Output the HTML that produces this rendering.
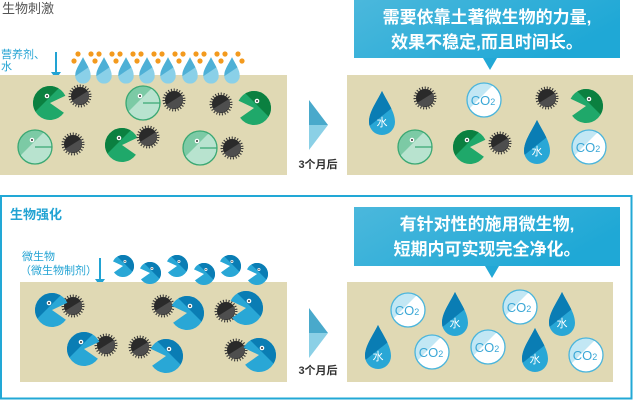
<!DOCTYPE html>
<html><head><meta charset="utf-8"><style>
html,body{margin:0;padding:0;background:#fff;}
svg{display:block;font-family:"Liberation Sans","Noto Sans CJK SC",sans-serif;}
</style></head><body>
<svg width="633" height="400" viewBox="0 0 633 400" xmlns="http://www.w3.org/2000/svg">
<defs>
<clipPath id="pmc"><path d="M0,0 L15.4,-7.2 A17,17 0 1,0 13.9,9.8 Z"/></clipPath>
<clipPath id="cc"><circle r="17"/></clipPath>
<clipPath id="dc"><path d="M0,-23 C6,-11 13,-2 13,8 A13,13 0 0,1 -13,8 C-13,-2 -6,-11 0,-23Z"/></clipPath>
<g id="gpac"><g clip-path="url(#pmc)"><rect x="-20" y="-20" width="40" height="40" fill="#1fa86a"/><polygon points="-20,14 14,-20 -20,-20" fill="#0b8040"/></g><circle cx="-3" cy="-7" r="2.3" fill="#fff"/><circle cx="-3" cy="-7" r="1" fill="#333"/></g>
<g id="bpac"><g clip-path="url(#pmc)"><rect x="-20" y="-20" width="40" height="40" fill="#29a7d6"/><polygon points="-20,14 14,-20 -20,-20" fill="#0a7db4"/></g><circle cx="-3" cy="-7" r="2.3" fill="#fff"/><circle cx="-3" cy="-7" r="1" fill="#333"/></g>
<g id="lpac"><g clip-path="url(#cc)"><rect x="-20" y="-20" width="40" height="40" fill="#b8e3cf"/><polygon points="-20,14 14,-20 -20,-20" fill="#7ccaa5"/></g><circle r="17" fill="none" stroke="#3aa873" stroke-width="1.3"/><line x1="0" y1="0" x2="17" y2="0" stroke="#3aa873" stroke-width="1.3"/><circle cx="-3" cy="-7" r="2.3" fill="#fff"/><circle cx="-3" cy="-7" r="1" fill="#333"/></g>
<g id="urch"><circle r="9.5" fill="none" stroke="#3a3a3a" stroke-width="4" stroke-dasharray="1 1.6"/><circle r="9" fill="#2a2a2a"/><path d="M-8,5 L8,-5 A9.5,9.5 0 0,1 -8,5Z" fill="#4e4e4e"/></g>
<g id="drop"><g clip-path="url(#dc)"><rect x="-15" y="-25" width="30" height="50" fill="#29a7d6"/><polygon points="-15,14 15,-10 15,-25 -15,-25" fill="#0a7db4"/></g><text x="0" y="12" font-size="11" fill="#fff" text-anchor="middle">水</text></g>
<g id="sdrop"><g clip-path="url(#dc)"><rect x="-15" y="-25" width="30" height="50" fill="#8ad0e8"/><polygon points="-15,10 15,-10 15,-25 -15,-25" fill="#4eb0d6"/></g></g>
<g id="co2"><g clip-path="url(#cc)"><rect x="-20" y="-20" width="40" height="40" fill="#fff"/><polygon points="-20,14 14,-20 -20,-20" fill="#c2e7f4"/></g><circle r="17" fill="none" stroke="#4ab5dc" stroke-width="1.3"/><text x="-1" y="5" font-size="13" fill="#3aa7d6" text-anchor="middle">CO<tspan font-size="9">2</tspan></text></g>
<linearGradient id="cg" x1="0" y1="0" x2="1" y2="0.4"><stop offset="0" stop-color="#4bb8dc"/><stop offset="1" stop-color="#1fa8d6"/></linearGradient>
</defs>

<text x="2" y="13" font-size="13" fill="#555">生物刺激</text>
<text x="1" y="58" font-size="11" fill="#22a3d3">营养剂、</text>
<text x="1" y="70" font-size="11" fill="#22a3d3">水</text>
<line x1="56" y1="52" x2="56" y2="74" stroke="#22a3d3" stroke-width="2"/>
<polygon points="51,72 61,72 56,79" fill="#22a3d3"/>
<rect x="0" y="75" width="287" height="100" fill="#e0d9b4"/>
<g fill="#f39a1e">
<circle cx="74" cy="61" r="2.6"/><circle cx="78" cy="54" r="2.6"/>
<circle cx="91" cy="54" r="2.6"/><circle cx="99" cy="54" r="2.6"/><circle cx="95" cy="61" r="2.6"/>
<circle cx="112" cy="54" r="2.6"/><circle cx="120" cy="54" r="2.6"/><circle cx="116" cy="61" r="2.6"/>
<circle cx="133" cy="54" r="2.6"/><circle cx="141" cy="54" r="2.6"/><circle cx="137" cy="61" r="2.6"/>
<circle cx="154" cy="54" r="2.6"/><circle cx="162" cy="54" r="2.6"/><circle cx="158" cy="61" r="2.6"/>
<circle cx="175" cy="54" r="2.6"/><circle cx="183" cy="54" r="2.6"/><circle cx="179" cy="61" r="2.6"/>
<circle cx="196" cy="54" r="2.6"/><circle cx="204" cy="54" r="2.6"/><circle cx="200" cy="61" r="2.6"/>
<circle cx="217" cy="54" r="2.6"/><circle cx="225" cy="54" r="2.6"/><circle cx="221" cy="61" r="2.6"/>
<circle cx="238" cy="54" r="2.6"/><circle cx="242" cy="61" r="2.6"/>
</g>
<use href="#sdrop" transform="translate(83,71) scale(0.6)"/>
<use href="#sdrop" transform="translate(104,71) scale(0.6)"/>
<use href="#sdrop" transform="translate(126,71) scale(0.6)"/>
<use href="#sdrop" transform="translate(147,71) scale(0.6)"/>
<use href="#sdrop" transform="translate(168,71) scale(0.6)"/>
<use href="#sdrop" transform="translate(190,71) scale(0.6)"/>
<use href="#sdrop" transform="translate(211,71) scale(0.6)"/>
<use href="#sdrop" transform="translate(232,71) scale(0.6)"/>

<use href="#gpac" transform="translate(50,103)"/>
<use href="#urch" transform="translate(80,96)"/>
<use href="#lpac" transform="translate(143,103)"/>
<use href="#urch" transform="translate(174,100)"/>
<use href="#urch" transform="translate(221,104)"/>
<use href="#gpac" transform="translate(254,108) scale(-1,1)"/>
<use href="#lpac" transform="translate(35,147)"/>
<use href="#urch" transform="translate(73,144)"/>
<use href="#gpac" transform="translate(122,145)"/>
<use href="#urch" transform="translate(148,137)"/>
<use href="#lpac" transform="translate(200,148)"/>
<use href="#urch" transform="translate(232,148)"/>

<polygon points="309,100 328,125 309,125" fill="#49a9cb"/>
<polygon points="309,125 328,125 309,150" fill="#8bd0e6"/>
<text x="318" y="168" font-size="11" fill="#333" font-weight="bold" text-anchor="middle">3个月后</text>

<rect x="347" y="75" width="286" height="100" fill="#e0d9b4"/>
<rect x="354" y="0" width="266" height="58" fill="url(#cg)"/>
<polygon points="483,58 497,58 490,70" fill="#22a8d6"/>
<text x="487" y="23" font-size="17" fill="#fff" font-weight="bold" text-anchor="middle">需要依靠土著微生物的力量,</text>
<text x="487" y="48" font-size="17" fill="#fff" font-weight="bold" text-anchor="middle">效果不稳定,而且时间长。</text>

<use href="#drop" transform="translate(382,114)"/>
<use href="#urch" transform="translate(425,98)"/>
<use href="#co2" transform="translate(484,100)"/>
<use href="#urch" transform="translate(547,98)"/>
<use href="#gpac" transform="translate(586,106) scale(-1,1)"/>
<use href="#lpac" transform="translate(415,147)"/>
<use href="#gpac" transform="translate(470,147)"/>
<use href="#urch" transform="translate(500,143)"/>
<use href="#drop" transform="translate(537,143)"/>
<use href="#co2" transform="translate(589,147)"/>

<rect x="1" y="196" width="630.5" height="202.5" fill="none" stroke="#22a8d6" stroke-width="2"/>
<text x="10" y="219" font-size="13" fill="#22a3d3" font-weight="bold">生物强化</text>
<text x="22" y="260" font-size="11" fill="#22a3d3">微生物</text>
<text x="20" y="274" font-size="11" fill="#22a3d3">（微生物制剂）</text>
<line x1="100" y1="258" x2="100" y2="281" stroke="#22a3d3" stroke-width="2"/>
<polygon points="95,279 105,279 100,286" fill="#22a3d3"/>
<rect x="20" y="282" width="267" height="100" fill="#e0d9b4"/>
<use href="#bpac" transform="translate(123,266) scale(-0.65,0.65)"/>
<use href="#bpac" transform="translate(150,273) scale(-0.65,0.65)"/>
<use href="#bpac" transform="translate(177,266) scale(-0.65,0.65)"/>
<use href="#bpac" transform="translate(204,274) scale(-0.65,0.65)"/>
<use href="#bpac" transform="translate(230,266) scale(-0.65,0.65)"/>
<use href="#bpac" transform="translate(257,274) scale(-0.65,0.65)"/>

<use href="#urch" transform="translate(73,306)"/>
<use href="#bpac" transform="translate(52,310)"/>
<use href="#urch" transform="translate(163,306)"/>
<use href="#bpac" transform="translate(187,313) scale(-1,1)"/>
<use href="#urch" transform="translate(226,311)"/>
<use href="#bpac" transform="translate(246,308) scale(-1,1)"/>
<use href="#urch" transform="translate(106,345)"/>
<use href="#bpac" transform="translate(84,349)"/>
<use href="#urch" transform="translate(140,347)"/>
<use href="#bpac" transform="translate(166,356) scale(-1,1)"/>
<use href="#urch" transform="translate(236,350)"/>
<use href="#bpac" transform="translate(259,355) scale(-1,1)"/>

<polygon points="309,308 328,333 309,333" fill="#49a9cb"/>
<polygon points="309,333 328,333 309,358" fill="#8bd0e6"/>
<text x="318" y="374" font-size="11" fill="#333" font-weight="bold" text-anchor="middle">3个月后</text>

<rect x="347" y="282" width="266" height="100" fill="#e0d9b4"/>
<rect x="354" y="207" width="266" height="59" fill="url(#cg)"/>
<polygon points="485,266 499,266 492,278" fill="#22a8d6"/>
<text x="487" y="230" font-size="17" fill="#fff" font-weight="bold" text-anchor="middle">有针对性的施用微生物,</text>
<text x="487" y="255" font-size="17" fill="#fff" font-weight="bold" text-anchor="middle">短期内可实现完全净化。</text>

<use href="#co2" transform="translate(408,310)"/>
<use href="#drop" transform="translate(455,315)"/>
<use href="#co2" transform="translate(520,307)"/>
<use href="#drop" transform="translate(562,315)"/>
<use href="#drop" transform="translate(378,348)"/>
<use href="#co2" transform="translate(432,352)"/>
<use href="#co2" transform="translate(488,347)"/>
<use href="#drop" transform="translate(535,351)"/>
<use href="#co2" transform="translate(586,355)"/>
</svg>
</body></html>
